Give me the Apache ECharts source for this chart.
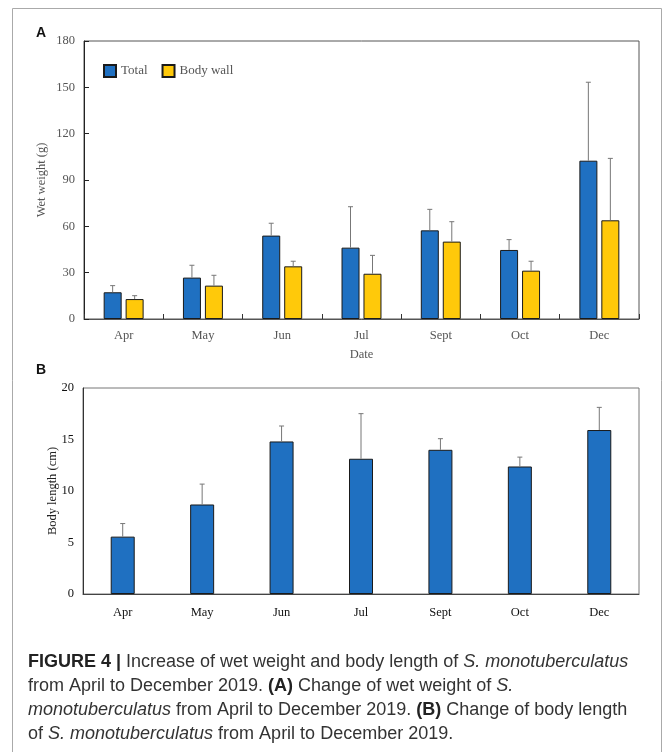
<!DOCTYPE html>
<html>
<head>
<meta charset="utf-8">
<title>Figure 4</title>
<script src="https://cdn.jsdelivr.net/npm/echarts@6/dist/echarts.min.js"></script>
<style>
  html, body { margin: 0; padding: 0; background: #fff; }
  #chart { width: 665px; height: 752px; }
</style>
</head>
<body>
<div id="chart"></div>
<script>
  // months sampled
  var months = ['Apr', 'May', 'Jun', 'Jul', 'Sept', 'Oct', 'Dec'];
  // A: wet weight (g), mean and sd
  var totalWeight = [17.3, 26.8, 54.0, 46.2, 57.4, 44.7, 102.5];
  var totalWeightSd = [4.3, 8.0, 8.0, 26.5, 13.6, 6.7, 50.8];
  var bodyWallWeight = [12.9, 21.6, 34.1, 29.3, 50.1, 31.3, 63.9];
  var bodyWallWeightSd = [2.2, 6.7, 3.3, 11.9, 12.9, 6.1, 40.1];
  // B: body length (cm), mean and sd
  var bodyLength = [5.57, 8.69, 14.81, 13.13, 14.0, 12.38, 15.92];
  var bodyLengthSd = [1.27, 1.98, 1.5, 4.38, 1.08, 0.91, 2.2];

  var serif = '"Liberation Serif", "DejaVu Serif", serif';
  var sans = '"Liberation Sans", Arial, sans-serif';
  var blue = '#1f70c1';
  var yellow = '#ffc90a';

  function errData(mean, sd) {
    return mean.map(function (v, i) { return [i, v, sd[i]]; });
  }

  // draws an upward error bar, shifted by offset px from the category center
  function errorBar(offset) {
    return function (params, api) {
      var x = api.value(0);
      var base = api.coord([x, api.value(1)]);
      var top = api.coord([x, api.value(1) + api.value(2)]);
      var cx = base[0] + offset;
      var st = {stroke: '#777', lineWidth: 1};
      return {
        type: 'group',
        children: [
          {type: 'line', shape: {x1: cx, y1: base[1], x2: cx, y2: top[1]}, style: st},
          {type: 'line', shape: {x1: cx - 2.5, y1: top[1], x2: cx + 2.5, y2: top[1]}, style: st}
        ]
      };
    };
  }

  var caption =
    '{b|FIGURE 4 |} Increase of wet weight and body length of {i|S. monotuberculatus}\n' +
    'from April to December 2019. {b|(A)} Change of wet weight of {i|S.}\n' +
    '{i|monotuberculatus} from April to December 2019. {b|(B)} Change of body length\n' +
    'of {i|S. monotuberculatus} from April to December 2019.';

  var option = {
    animation: false,
    backgroundColor: '#fff',
    grid: [
      {left: 84, top: 41, right: 26, height: 278, show: true, borderColor: '#555', borderWidth: 1},
      {left: 83, top: 388, right: 26, height: 206, show: true, borderColor: '#777', borderWidth: 1}
    ],
    legend: {
      data: ['Total', 'Body wall'],
      left: 103, top: 64, padding: 0,
      itemWidth: 12, itemHeight: 12, itemGap: 14,
      icon: 'rect',
      textStyle: {fontFamily: serif, fontSize: 13, color: '#555'}
    },
    xAxis: [
      {
        gridIndex: 0, type: 'category', data: months,
        name: 'Date', nameLocation: 'middle', nameGap: 29,
        nameTextStyle: {fontFamily: serif, fontSize: 12.5, color: '#555'},
        axisLine: {lineStyle: {color: '#555'}},
        axisTick: {show: true, inside: true, length: 5, lineStyle: {color: '#333'}},
        axisLabel: {fontFamily: serif, fontSize: 12.5, color: '#555', margin: 10}
      },
      {
        gridIndex: 1, type: 'category', data: months,
        axisLine: {lineStyle: {color: '#444'}},
        axisTick: {show: false},
        axisLabel: {fontFamily: serif, fontSize: 12.5, color: '#111', margin: 12}
      }
    ],
    yAxis: [
      {
        gridIndex: 0, type: 'value', min: 0, max: 180, interval: 30,
        name: 'Wet weight (g)', nameLocation: 'middle', nameGap: 36, nameMoveOverlap: false,
        nameTextStyle: {fontFamily: serif, fontSize: 12.5, color: '#555'},
        axisLine: {show: true, lineStyle: {color: '#222'}},
        axisTick: {show: true, inside: true, length: 5, lineStyle: {color: '#222'}},
        axisLabel: {fontFamily: serif, fontSize: 12.5, color: '#555', margin: 9},
        splitLine: {show: false}
      },
      {
        gridIndex: 1, type: 'value', min: 0, max: 20, interval: 5,
        name: 'Body length (cm)', nameLocation: 'middle', nameGap: 24, nameMoveOverlap: false,
        nameTextStyle: {fontFamily: serif, fontSize: 12.5, color: '#222'},
        axisLine: {show: true, lineStyle: {color: '#333'}},
        axisTick: {show: false},
        axisLabel: {fontFamily: serif, fontSize: 12.5, color: '#111', margin: 9},
        splitLine: {show: false}
      }
    ],
    series: [
      {
        name: 'Total', type: 'bar', xAxisIndex: 0, yAxisIndex: 0,
        data: totalWeight, barWidth: 18, barGap: '22%',
        itemStyle: {color: blue, borderColor: '#1a1a1a', borderWidth: 1}
      },
      {
        name: 'Body wall', type: 'bar', xAxisIndex: 0, yAxisIndex: 0,
        data: bodyWallWeight, barWidth: 18, barGap: '22%',
        itemStyle: {color: yellow, borderColor: '#1a1a1a', borderWidth: 1}
      },
      {
        type: 'custom', xAxisIndex: 0, yAxisIndex: 0, z: 5,
        renderItem: errorBar(-11), data: errData(totalWeight, totalWeightSd),
        encode: {x: 0, y: 1}
      },
      {
        type: 'custom', xAxisIndex: 0, yAxisIndex: 0, z: 5,
        renderItem: errorBar(11), data: errData(bodyWallWeight, bodyWallWeightSd),
        encode: {x: 0, y: 1}
      },
      {
        name: 'Body length', type: 'bar', xAxisIndex: 1, yAxisIndex: 1,
        data: bodyLength, barWidth: 24,
        itemStyle: {color: blue, borderColor: '#1a1a1a', borderWidth: 1}
      },
      {
        type: 'custom', xAxisIndex: 1, yAxisIndex: 1, z: 5,
        renderItem: errorBar(0), data: errData(bodyLength, bodyLengthSd),
        encode: {x: 0, y: 1}
      }
    ],
    graphic: [
      {
        type: 'rect', silent: true,
        shape: {x: 12.5, y: 8.5, width: 649, height: 760},
        style: {fill: 'none', stroke: '#aaa', lineWidth: 1}
      },
      {
        type: 'text', left: 36, top: 26,
        style: {text: 'A', font: 'bold 14px ' + sans, fill: '#111'}
      },
      {
        type: 'text', left: 36, top: 363,
        style: {text: 'B', font: 'bold 14px ' + sans, fill: '#111'}
      },
      {
        type: 'text', left: 28, top: 650,
        style: {
          text: caption,
          fontFamily: sans, fontSize: 18, fill: '#333', lineHeight: 24,
          rich: {
            b: {fontFamily: sans, fontSize: 18, fontWeight: 'bold', fill: '#222', lineHeight: 24},
            i: {fontFamily: sans, fontSize: 18, fontStyle: 'italic', fill: '#333', lineHeight: 24}
          }
        }
      }
    ]
  };

  var myChart = echarts.init(document.getElementById('chart'));
  myChart.setOption(option);
</script>
</body>
</html>
